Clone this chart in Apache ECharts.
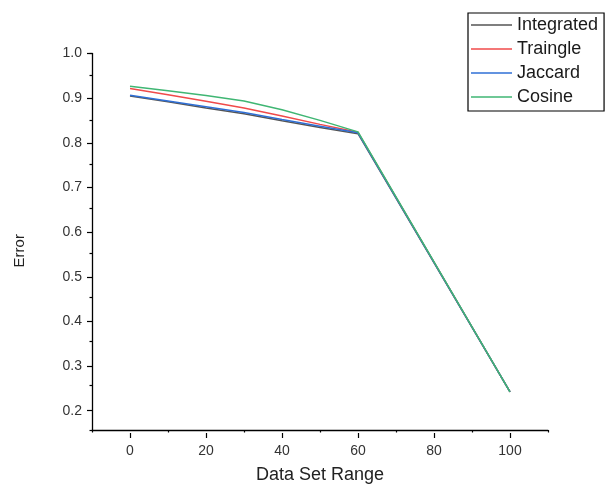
<!DOCTYPE html>
<html>
<head>
<meta charset="utf-8">
<script src="https://cdn.jsdelivr.net/npm/echarts@6/dist/echarts.min.js"></script>
<style>
html,body{margin:0;padding:0;background:#fff;}
#chart{width:607px;height:489px;}
</style>
</head>
<body>
<div id="chart"></div>
<script>
const xValues = [0, 10, 20, 30, 40, 50, 60, 100];
const integrated = [0.904, 0.891, 0.877, 0.864, 0.848, 0.833, 0.819, 0.236];
const traingle   = [0.921, 0.907, 0.892, 0.877, 0.859, 0.840, 0.822, 0.236];
const jaccard    = [0.906, 0.893, 0.880, 0.867, 0.851, 0.836, 0.821, 0.236];
const cosine     = [0.926, 0.916, 0.905, 0.893, 0.873, 0.849, 0.823, 0.236];
const seriesNames = ['Integrated', 'Traingle', 'Jaccard', 'Cosine'];
const seriesColors = ['#555555', '#f04a4a', '#2f6fd6', '#3fb673'];
const seriesData = [integrated, traingle, jaccard, cosine];

const chart = echarts.init(document.getElementById('chart'));
const font = 'Liberation Sans, Arial, sans-serif';

const option = {
  animation: false,
  backgroundColor: '#ffffff',
  grid: [
    {left: 92, right: 59, top: 53.5, bottom: 56, containLabel: false},
    {left: 130, right: 97, top: 53.5, bottom: 78.3, containLabel: false}
  ],
  legend: {
    orient: 'vertical',
    left: 468,
    top: 13,
    padding: [3, 6, 5, 3],
    icon: 'rect',
    itemWidth: 41,
    itemHeight: 1.5,
    itemGap: 6,
    borderColor: '#000',
    borderWidth: 1.2,
    data: seriesNames,
    textStyle: {fontFamily: font, fontSize: 18, color: '#1a1a1a', lineHeight: 18}
  },
  xAxis: [
    {
      gridIndex: 0, type: 'value', min: -10, max: 110, interval: 20,
      name: 'Data Set Range', nameLocation: 'middle', nameGap: 36,
      nameTextStyle: {fontFamily: font, fontSize: 18, color: '#222'},
      axisLine: {show: true, onZero: false, lineStyle: {color: '#000', width: 1.3}},
      axisTick: {show: true, inside: false, length: 2.5, lineStyle: {color: '#000', width: 1.2}},
      axisLabel: {show: false},
      splitLine: {show: false}
    },
    {
      gridIndex: 1, type: 'value', min: 0, max: 100, interval: 20, offset: 22.3,
      axisLine: {show: false, onZero: false},
      axisTick: {show: true, inside: false, length: 5, lineStyle: {color: '#000', width: 1.2}},
      axisLabel: {show: true, margin: 11, fontFamily: font, fontSize: 14, color: '#333'},
      splitLine: {show: false}
    }
  ],
  yAxis: [
    {
      gridIndex: 0, type: 'value', min: 0.15, max: 1.0, interval: 0.1,
      name: 'Error', nameLocation: 'middle', nameGap: 65, nameRotate: 90,
      nameTextStyle: {fontFamily: font, fontSize: 15, color: '#222', padding: [0, 18, 0, 0]},
      axisLine: {show: true, onZero: false, lineStyle: {color: '#000', width: 1.3}},
      axisTick: {show: true, inside: false, length: 2.5, lineStyle: {color: '#000', width: 1.2}},
      axisLabel: {show: false},
      splitLine: {show: false}
    },
    {
      gridIndex: 1, type: 'value', min: 0.2, max: 1.0, interval: 0.1, offset: 38,
      axisLine: {show: false, onZero: false},
      axisTick: {show: true, inside: false, length: 5, lineStyle: {color: '#000', width: 1.2}},
      axisLabel: {show: true, margin: 10, fontFamily: font, fontSize: 14, color: '#333',
                  formatter: v => v.toFixed(1)},
      splitLine: {show: false}
    }
  ],
  series: seriesNames.map((name, i) => ({
    name: name,
    type: 'line',
    xAxisIndex: 0,
    yAxisIndex: 0,
    symbol: 'none',
    color: seriesColors[i],
    lineStyle: {color: seriesColors[i], width: 1.5},
    data: xValues.map((x, j) => [x, seriesData[i][j]])
  }))
};
chart.setOption(option);
</script>
</body>
</html>
